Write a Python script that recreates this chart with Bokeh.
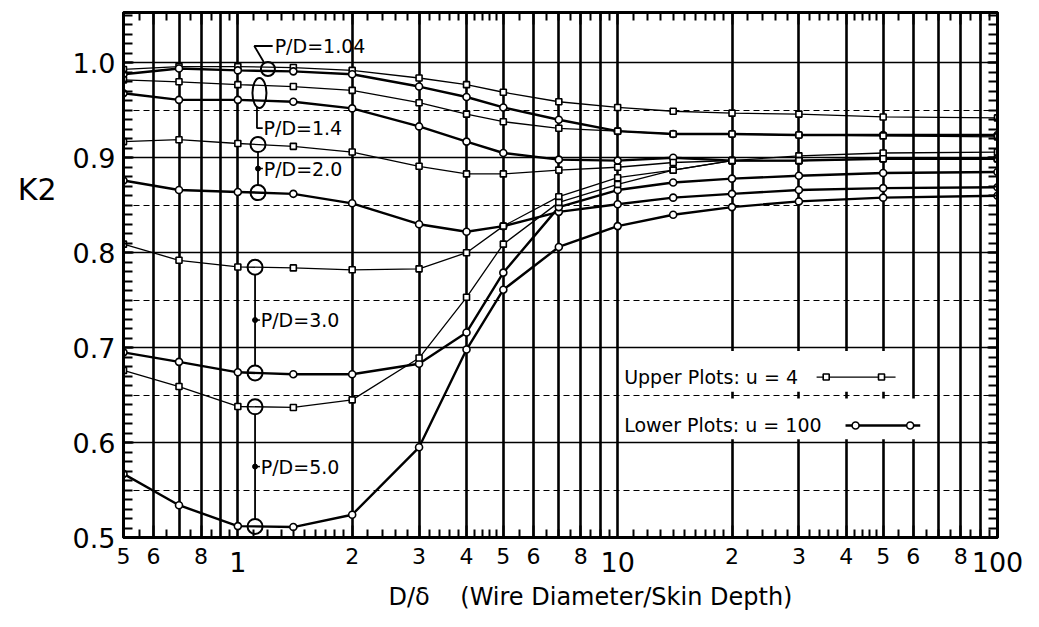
import numpy as np
from bokeh.plotting import figure
from bokeh.models import (Range1d, LogAxis, LinearAxis, FixedTicker, Grid, Label, Title,
                          BoxAnnotation, PrintfTickFormatter)
from bokeh.embed import file_html
from bokeh.resources import INLINE

# ---------------- data ----------------
d_over_delta = [0.5, 0.7, 1.0, 1.4, 2.0, 3.0, 4.0, 5.0, 7.0, 10.0, 14.0, 20.0, 30.0, 50.0, 100.0]

# upper plots: u = 4 ; lower plots: u = 100
k2_pd104_u4   = [0.993, 0.996, 0.996, 0.995, 0.992, 0.984, 0.977, 0.969, 0.959, 0.953, 0.949, 0.947, 0.946, 0.943, 0.942]
k2_pd104_u100 = [0.988, 0.994, 0.992, 0.991, 0.988, 0.975, 0.964, 0.953, 0.940, 0.928, 0.925, 0.925, 0.924, 0.924, 0.924]
k2_pd14_u4    = [0.982, 0.980, 0.977, 0.975, 0.971, 0.958, 0.946, 0.938, 0.931, 0.928, 0.925, 0.925, 0.924, 0.923, 0.922]
k2_pd14_u100  = [0.968, 0.961, 0.961, 0.959, 0.952, 0.933, 0.917, 0.905, 0.898, 0.897, 0.900, 0.897, 0.897, 0.899, 0.899]
k2_pd20_u4    = [0.917, 0.919, 0.915, 0.912, 0.906, 0.891, 0.883, 0.883, 0.887, 0.890, 0.895, 0.897, 0.902, 0.905, 0.906]
k2_pd20_u100  = [0.876, 0.866, 0.864, 0.862, 0.852, 0.830, 0.822, 0.828, 0.843, 0.851, 0.858, 0.862, 0.866, 0.868, 0.869]
k2_pd30_u4    = [0.809, 0.792, 0.785, 0.784, 0.782, 0.783, 0.800, 0.828, 0.859, 0.879, 0.887, 0.897, 0.897, 0.899, 0.899]
k2_pd30_u100  = [0.695, 0.685, 0.674, 0.672, 0.672, 0.683, 0.716, 0.779, 0.848, 0.866, 0.874, 0.878, 0.881, 0.884, 0.885]
k2_pd50_u4    = [0.676, 0.659, 0.638, 0.637, 0.645, 0.689, 0.753, 0.809, 0.853, 0.872, 0.887, 0.897, 0.897, 0.899, 0.899]
k2_pd50_u100  = [0.567, 0.534, 0.512, 0.511, 0.524, 0.595, 0.698, 0.761, 0.806, 0.828, 0.840, 0.848, 0.854, 0.858, 0.860]

pd_names = ["1.04", "1.4", "2.0", "3.0", "5.0"]
upper_series = [k2_pd104_u4, k2_pd14_u4, k2_pd20_u4, k2_pd30_u4, k2_pd50_u4]
lower_series = [k2_pd104_u100, k2_pd14_u100, k2_pd20_u100, k2_pd30_u100, k2_pd50_u100]

x_tick_values = [0.5, 0.6, 0.8, 2, 3, 4, 5, 6, 8, 20, 30, 40, 50, 60, 80]
x_tick_labels = ["5", "6", "8", "2", "3", "4", "5", "6", "8", "2", "3", "4", "5", "6", "8"]
decade_values = [1, 10, 100]
decade_labels = ["1", "10", "100"]
x_grid_values = [0.5, 0.6, 0.7, 0.8, 0.9, 1, 2, 3, 4, 5, 6, 7, 8, 9, 10,
                 20, 30, 40, 50, 60, 70, 80, 90, 100]
y_tick_values = [0.5, 0.6, 0.7, 0.8, 0.9, 1.0]
y_dash_values = [0.55, 0.65, 0.75, 0.85, 0.95]
y_title = "K2"
x_title = "D/\u03b4\u00a0\u00a0\u00a0\u00a0(Wire Diameter/Skin Depth)"
legend_texts = ["Upper Plots: u = 4", "Lower Plots: u = 100"]

# minor tick positions (styling only)
x_minor = ([0.55, 0.65, 0.75, 0.85, 0.95] + [1.1, 1.2, 1.3, 1.4, 1.5, 1.6, 1.7, 1.8, 1.9]
           + [2.2, 2.4, 2.6, 2.8, 3.2, 3.4, 3.6, 3.8, 4.2, 4.4, 4.6, 4.8]
           + [5.5, 6.5, 7, 7.5, 8.5, 9, 9.5])
x_minor = x_minor + [v * 10 for v in x_minor if v >= 1.0]
y_minor = [round(0.5 + 0.01 * i, 2) for i in range(0, 56)]

FONT = "DejaVu Sans"

p = figure(width=1028, height=618, x_axis_type="log",
           x_range=Range1d(0.5, 100), y_range=Range1d(0.5, 1.053),
           output_backend="svg", toolbar_location=None)
p.min_border_left = 123
p.min_border_right = 31
p.min_border_top = 12
p.min_border_bottom = 81
p.outline_line_color = "black"
p.outline_line_width = 3
p.background_fill_color = "white"
p.border_fill_color = "white"

# bottom axis
bx = p.xaxis[0]
bx.ticker = FixedTicker(ticks=x_tick_values, minor_ticks=x_minor)
bx.major_label_overrides = {float(v): t for v, t in zip(x_tick_values, x_tick_labels)}
bx.major_tick_in = 12
bx.major_tick_out = 0
bx.minor_tick_in = 8
bx.minor_tick_out = 0
bx.major_tick_line_width = 2
bx.minor_tick_line_width = 2
bx.axis_line_width = 3
bx.major_label_standoff = 10
bx.major_label_text_font = FONT
bx.major_label_text_font_size = "22px"
bx.major_label_text_color = "black"

# decade labels: a second bottom axis (larger, slightly lower labels)
dx = LogAxis(ticker=FixedTicker(ticks=decade_values, minor_ticks=[]),
             major_label_overrides={float(v): t for v, t in zip(decade_values, decade_labels)},
             major_label_standoff=-15, major_tick_in=0, major_tick_out=0,
             minor_tick_in=0, minor_tick_out=0, axis_line_color=None,
             major_tick_line_color=None, minor_tick_line_color=None,
             major_label_text_font=FONT, major_label_text_font_size="27px",
             major_label_text_color="black")
p.add_layout(dx, "below")

# x title
p.add_layout(Title(text=x_title, align="left", offset=265, standoff=12,
                   text_font=FONT, text_font_size="24px", text_font_style="normal",
                   text_color="black"), "below")

# left axis
ly = p.yaxis[0]
ly.ticker = FixedTicker(ticks=y_tick_values, minor_ticks=y_minor)
ly.formatter = PrintfTickFormatter(format="%.1f")
ly.major_tick_in = 10
ly.major_tick_out = 0
ly.minor_tick_in = 9
ly.minor_tick_out = 0
ly.major_tick_line_width = 2
ly.minor_tick_line_width = 2
ly.axis_line_width = 3
ly.major_label_standoff = 8
ly.major_label_text_font = FONT
ly.major_label_text_font_size = "27px"
ly.major_label_text_color = "black"

# y title "K2": a second left axis carrying one horizontal label
ky = LinearAxis(ticker=FixedTicker(ticks=[0.867], minor_ticks=[]),
                major_label_overrides={0.867: y_title},
                major_label_standoff=13, major_tick_in=0, major_tick_out=0,
                minor_tick_in=0, minor_tick_out=0, axis_line_color=None,
                major_tick_line_color=None, minor_tick_line_color=None,
                major_label_text_font=FONT, major_label_text_font_size="30px",
                major_label_text_color="black")
p.add_layout(ky, "left")

# top & right axes (inward ticks only, empty labels)
top_ticks = x_tick_values + decade_values
tx = LogAxis(ticker=FixedTicker(ticks=top_ticks, minor_ticks=x_minor),
             major_label_overrides={float(v): "" for v in top_ticks}, major_label_standoff=0,
             major_tick_in=12, major_tick_out=0, minor_tick_in=8, minor_tick_out=0,
             major_tick_line_width=2, minor_tick_line_width=2, axis_line_width=3)
p.add_layout(tx, "above")
ry = LinearAxis(ticker=FixedTicker(ticks=y_tick_values, minor_ticks=y_minor),
                major_label_overrides={float(v): "" for v in y_tick_values}, major_label_standoff=0,
                major_tick_in=10, major_tick_out=0, minor_tick_in=9, minor_tick_out=0,
                major_tick_line_width=2, minor_tick_line_width=2, axis_line_width=3)
p.add_layout(ry, "right")

# grids
p.xgrid[0].ticker = FixedTicker(ticks=x_grid_values)
p.xgrid[0].grid_line_color = "black"
p.xgrid[0].grid_line_width = 2.6
p.ygrid[0].ticker = FixedTicker(ticks=y_tick_values)
p.ygrid[0].grid_line_color = "black"
p.ygrid[0].grid_line_width = 1.3
dg = Grid(dimension=1, ticker=FixedTicker(ticks=y_dash_values), grid_line_color="black",
          grid_line_width=1.2, grid_line_dash="6 4")
p.add_layout(dg)

# curves
for up, lo in zip(upper_series, lower_series):
    p.line(d_over_delta, up, line_color="black", line_width=1.3)
    p.line(d_over_delta, lo, line_color="black", line_width=2.4)
for up, lo in zip(upper_series, lower_series):
    p.scatter(d_over_delta, up, marker="square", size=6, fill_color="white",
              line_color="black", line_width=1.6)
    p.scatter(d_over_delta, lo, marker="circle", size=7, fill_color="white",
              line_color="black", line_width=1.6)

# ---------------- call-outs ----------------
lx = np.log10(d_over_delta)
def at(series, x):
    return float(np.interp(np.log10(x), lx, series))

PXY = 948.0  # pixels per unit K2 (for small geometric offsets)
txt_style = dict(text_font=FONT, text_font_size="19px", text_color="black",
                 text_baseline="middle", text_align="left")

# P/D = 1.04 : circle + bent leader
cx = 1.2
cy = (at(k2_pd104_u4, cx) + at(k2_pd104_u100, cx)) / 2
p.scatter([cx], [cy], marker="circle", size=14, fill_alpha=0, line_color="black", line_width=2)
ty = cy + 23 / PXY
p.line([cx * 0.975, 1.105, 1.235], [cy + 7 / PXY, ty, ty], line_color="black", line_width=1.8)
p.add_layout(Label(x=1.25, y=ty, text="P/D=" + pd_names[0], **txt_style))

# P/D = 1.4 : ellipse + leader
cx = 1.14
cy = (at(k2_pd14_u4, cx) + at(k2_pd14_u100, cx)) / 2
p.ellipse([cx], [cy], width=14, height=30, width_units="screen", height_units="screen",
          fill_alpha=0, line_color="black", line_width=2)
ty = cy - 35 / PXY
p.line([cx * 0.985, cx * 0.985, cx * 1.02], [cy - 14 / PXY, ty, ty], line_color="black", line_width=1.8)
p.add_layout(Label(x=cx * 1.025, y=ty, text="P/D=" + pd_names[1], **txt_style))

# P/D = 2.0, 3.0, 5.0 : two circles joined by a vertical leader
for name, up, lo, cx in [(pd_names[2], k2_pd20_u4, k2_pd20_u100, 1.13),
                         (pd_names[3], k2_pd30_u4, k2_pd30_u100, 1.11),
                         (pd_names[4], k2_pd50_u4, k2_pd50_u100, 1.11)]:
    yu, yl = at(up, cx), at(lo, cx)
    r = 7.5 / PXY
    p.scatter([cx, cx], [yu, yl], marker="circle", size=15, fill_alpha=0,
              line_color="black", line_width=2)
    p.segment([cx], [yu - r], [cx], [yl + r], line_color="black", line_width=1.8)
    ym = (yu + yl) / 2
    p.scatter([cx], [ym], marker="circle", size=5, fill_color="black", line_color="black")
    p.segment([cx], [ym], [cx * 1.03], [ym], line_color="black", line_width=1.5)
    p.add_layout(Label(x=cx * 1.035, y=ym, text="P/D=" + name, **txt_style))

# ---------------- legend (text then sample, as in the original) ----------------
legend_y = [0.669, 0.618]
p.add_layout(BoxAnnotation(left=10.25, right=57, bottom=0.6535, top=0.6965,
                           fill_color="white", fill_alpha=1, line_alpha=0))
p.add_layout(BoxAnnotation(left=10.25, right=64, bottom=0.6035, top=0.6465,
                           fill_color="white", fill_alpha=1, line_alpha=0))
leg_line_x = [(33.4, 53.9), (39.8, 62.6)]
leg_mark_x = [(35.4, 49.5), (42.3, 58.9)]
leg_marker = ["square", "circle"]
leg_width = [1.3, 2.4]
for i in range(2):
    r1 = p.line(list(leg_line_x[i]), [legend_y[i]] * 2, line_color="black", line_width=leg_width[i])
    r2 = p.scatter(list(leg_mark_x[i]), [legend_y[i]] * 2, marker=leg_marker[i],
                   size=6 if i == 0 else 7, fill_color="white", line_color="black", line_width=1.6)
    r1.level = "overlay"
    r2.level = "overlay"
    lab = Label(x=10.4, y=legend_y[i], text=legend_texts[i], **txt_style)
    lab.level = "overlay"
    p.add_layout(lab)

open("out.html", "w").write(file_html(p, INLINE))
